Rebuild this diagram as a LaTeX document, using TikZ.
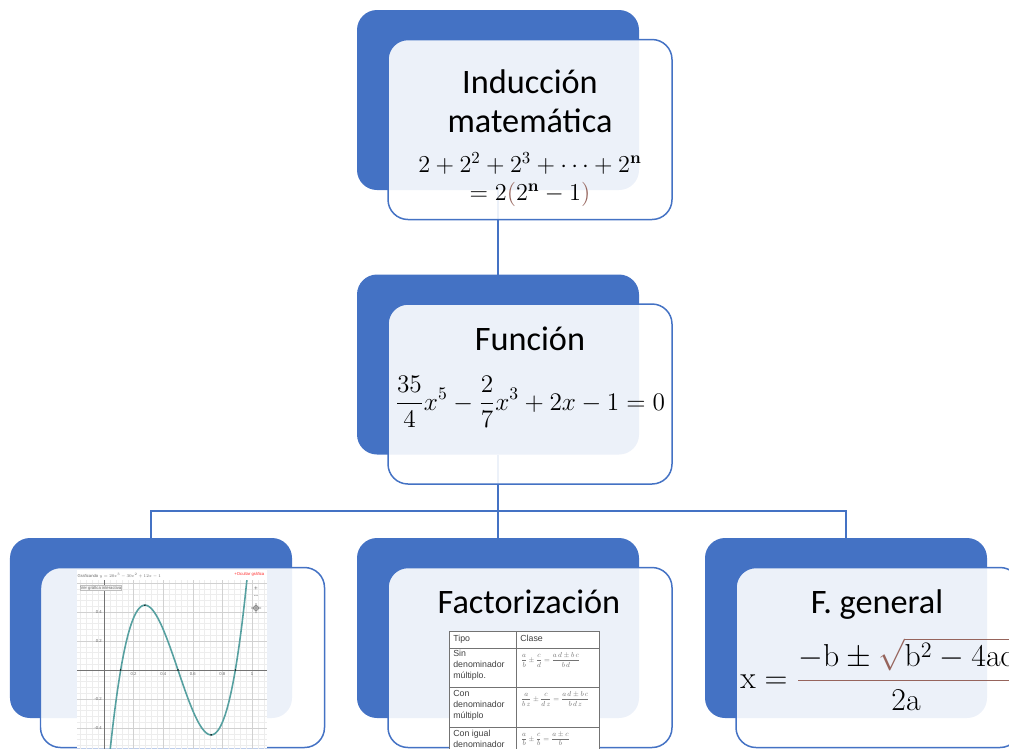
\documentclass[tikz,border=0pt]{standalone}
\usepackage{amsmath}
\usepackage[no-math]{fontspec}
\setmainfont{Carlito}
\newfontfamily\tablafont{Liberation Sans}

\definecolor{azul}{RGB}{68,114,196}
\definecolor{marron}{RGB}{150,100,92}
\definecolor{verdeazul}{RGB}{86,160,160}

\begin{document}
\begin{tikzpicture}[
    x=0.2mm, y=-0.2mm,
    fondo/.style={rectangle, rounded corners=4mm, fill=azul, minimum width=56.4mm, minimum height=36mm, inner sep=0pt, outer sep=0pt},
    frente/.style={rectangle, rounded corners=4mm, draw=azul, line width=0.85pt, fill=white, fill opacity=0.9, minimum width=56.8mm, minimum height=36mm, inner sep=0pt, outer sep=0pt},
    conector/.style={draw=azul, line width=0.6pt},
    titulo/.style={font=\fontsize{19.5}{23}\selectfont, anchor=base, inner sep=0pt},
    formula/.style={inner sep=0pt},
    celda/.style={font=\tablafont\fontsize{5}{6.3}\selectfont, text=black!75, align=left, anchor=north west, inner sep=0pt},
    fracc/.style={font=\fontsize{9}{11}\selectfont, text=black!55, anchor=west, inner sep=0pt, scale=0.46, transform shape},
    etiq/.style={font=\tablafont\fontsize{6}{7}\selectfont, text=black!60, inner sep=0.8pt, scale=0.4, transform shape},
    curva/.style={draw=verdeazul, line width=0.9pt}
]
    \useasboundingbox (0,0) rectangle (1009,748);
    \clip (0,0) rectangle (1009,748);

    % 1. Fondos azules
    \node[fondo] (fondoInd)  at (498,100)   {};
    \node[fondo] (fondoFun)  at (498,364.5) {};
    \node[fondo] (fondoGraf) at (151,628)   {};
    \node[fondo] (fondoFac)  at (498,628)   {};
    \node[fondo] (fondoGen)  at (846,628)   {};

    % 2. Conectores
    \draw[conector] (fondoInd) -- (fondoFun);
    \draw[conector] (fondoFun) -- (fondoFac);
    \draw[conector] (fondoGraf.north) -- ++(0,-27) -| (fondoGen.north);

    % 3. Recuadros delanteros
    \node[frente] (frenteInd)  at (530,129.5) {};
    \node[frente] (frenteFun)  at (530,394)   {};
    \node[frente] (frenteGraf) at (182.5,657.5) {};
    \node[frente] (frenteFac)  at (530,657.5) {};
    \node[frente] (frenteGen)  at (878,657.5) {};

    % 4. Induccion matematica
    \node[titulo] (tInd) at (530,93)  {Inducción};
    \node[titulo] (tMat) at (530,132) {matemática};
    \node[formula, font=\fontsize{14.4}{17}\selectfont, anchor=base, scale=0.96, transform shape] (ecInd1) at (530,172)
        {$2+2^2+2^3+\cdots+2^{\mathbf{n}}$};
    \node[formula, font=\fontsize{14.4}{17}\selectfont, anchor=base, scale=0.96, transform shape] (ecInd2) at (530,200)
        {$=2{\color{marron}(}2^{\mathbf{n}}-1{\color{marron})}$};

    % 5. Funcion
    \node[titulo] (tFun) at (530,350) {Función};
    \node[formula, font=\fontsize{14.4}{17}\selectfont] (ecFun) at (530,402)
        {$\displaystyle\frac{35}{4}x^5-\frac{2}{7}x^3+2x-1=0$};

    % 6. Grafica (captura)
    \fill[white] (77,570) rectangle (267,748);
    \begin{scope}[shift={(104,670)}, x=29.6mm, y=29mm]
        \begin{scope}
            \clip (-0.182,-0.54) rectangle (1.101,0.62);
            \draw[black!7, line width=0.2pt, step=0.04] (-0.2,-0.6) grid (1.2,0.7);
            \draw[black!18, line width=0.3pt, step=0.2] (-0.2,-0.6) grid (1.2,0.7);
            \draw[black!55, line width=0.35pt] (-0.2,0) -- (1.2,0) (0,-0.6) -- (0,0.7);
            \draw[curva] plot[domain=0.03:0.98, samples=120, smooth] (\x,{20*\x^3-30*\x^2+12*\x-1});
        \end{scope}
        \foreach \px/\py in {0.1127/0, 0.5/0, 0.8873/0, 0.2764/0.4472, 0.7236/-0.4472}
            \fill (\px,\py) circle[radius=0.45pt];
        \foreach \v [count=\i] in {0.2,0.4,0.6,0.8,1}
            \node[etiq, anchor=north] (ex\i) at (\v,-0.01) {\v};
        \foreach \v [count=\i] in {0.4,0.2,-0.2,-0.4}
            \node[etiq, anchor=east] (ey\i) at (-0.01,\v) {\v};
    \end{scope}
    \node[etiq, anchor=west] (titGraf) at (77,576) {Graficando $y=20x^3-30x^2+12x-1$};
    \node[etiq, text=red!85, anchor=east] (ocultar) at (265,574) {+Ocultar gráfica};
    \node[etiq, draw=black!25, fill=black!3, anchor=west] (botonVer) at (80,588) {Ver gráfica interactiva};
    \node[etiq, font=\tablafont\fontsize{9}{9}\selectfont] (mas)   at (256,589) {+};
    \node[etiq, font=\tablafont\fontsize{9}{9}\selectfont] (menos) at (256,597) {--};
    \draw[black!55, line width=0.4pt] (256,608) circle[radius=2.5]
        (251,608) -- (261,608) (256,603) -- (256,613);

    % 7. Factorizacion
    \node[titulo] (tFac) at (529,613) {Factorización};
    \fill[white] (449,631) rectangle (599,770);
    \draw[black!55, line width=0.35pt] (449,770) -- (449,631) -- (599,631) -- (599,770)
        (516,631) -- (516,770) (449,648) -- (599,648) (449,687) -- (599,687) (449,727) -- (599,727);
    \node[celda] (tipo)  at (453,635) {Tipo};
    \node[celda] (clase) at (520,635) {Clase};
    \node[celda] (sin)   at (453,650) {Sin\\denominador\\múltiplo.};
    \node[celda] (con)   at (453,690) {Con\\denominador\\múltiplo};
    \node[celda] (igual) at (453,730) {Con igual\\denominador};
    \node[fracc] (fsin)   at (521,660) {$\displaystyle\frac{a}{b}\pm\frac{c}{d}=\frac{a\,d\pm b\,c}{b\,d}$};
    \node[fracc] (fcon)   at (521,699) {$\displaystyle\frac{a}{b\,z}\pm\frac{c}{d\,z}=\frac{a\,d\pm b\,c}{b\,d\,z}$};
    \node[fracc] (figual) at (521,739) {$\displaystyle\frac{a}{b}\pm\frac{c}{b}=\frac{a\pm c}{b}$};

    % 8. Formula general
    \node[titulo] (tGen) at (877,613) {F. general};
    \node[formula, font=\fontsize{17.28}{21}\selectfont, anchor=west, scale=1.045, transform shape] (ecGen) at (740,674)
        {$\mathrm{x}={\color{marron}\dfrac{\color{black}-\mathrm{b}\pm{\color{marron}\sqrt{\color{black}\mathrm{b}^2-4\mathrm{ac}}}}{\color{black}2\mathrm{a}}}$};

\end{tikzpicture}
\end{document}
